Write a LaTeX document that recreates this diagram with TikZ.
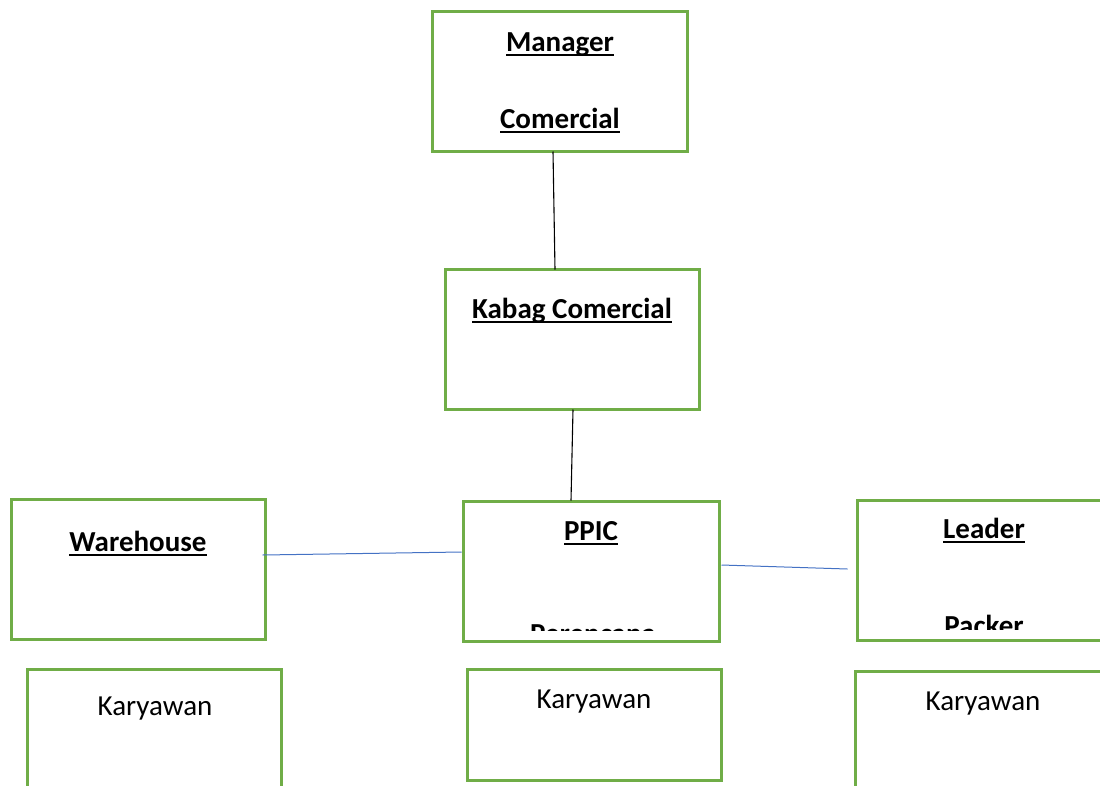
\documentclass[tikz,border=0pt]{standalone}
\usepackage{fontspec}
\setmainfont{Carlito}
\definecolor{boxgreen}{HTML}{70AD47}
\definecolor{lineblue}{HTML}{4472C4}
\newcommand\ulbold[1]{\setbox0=\hbox{\bfseries #1}\rlap{\rule[-4.5pt]{\wd0}{2pt}}\box0}
\begin{document}
\begin{tikzpicture}[x=1pt,y=-1pt,
  orgbox/.style={draw=boxgreen,line width=3pt,fill=white,inner sep=0pt,minimum width=254pt,minimum height=140pt},
  lbl/.style={anchor=base,inner sep=0pt,font=\fontsize{29}{34}\selectfont},
  blk/.style={draw=black,line width=1.1pt},
  blu/.style={draw=lineblue,line width=1pt}]
\useasboundingbox (0,0) rectangle (1100,785);
\clip (0,0) rectangle (1100,785);
% boxes
\node[orgbox,minimum width=255pt] (mgr) at (559.5,81) {};
\node[orgbox] (kabag) at (572,339) {};
\node[orgbox] (wh) at (138,569) {};
\node[orgbox,minimum width=256pt] (ppic) at (591,571) {};
\node[orgbox] (lead) at (984,570) {};
\node[orgbox] (k1) at (154,739) {};
\node[orgbox,minimum height=111pt] (k2) at (594,724.5) {};
\node[orgbox] (k3) at (982,741) {};
% texts
\node[lbl] (tmgr1) at (560,51) {\ulbold{Manager}};
\node[lbl] (tmgr2) at (560,128) {\ulbold{Comercial}};
\node[lbl] (tkab) at (572,318) {\ulbold{Kabag Comercial}};
\node[lbl] (twh) at (138,551) {\ulbold{Warehouse}};
\node[lbl] (tppic) at (591,540) {\ulbold{PPIC}};
\node[lbl] (tlead) at (984,538) {\ulbold{Leader}};
\begin{scope}
\clip (464,500) rectangle (718,630);
\node[lbl] (tper) at (593,643) {\bfseries Perencana};
\end{scope}
\begin{scope}
\clip (858,500) rectangle (1100,629);
\node[lbl] (tpack) at (984,635) {\bfseries Packer};
\end{scope}
\node[lbl] (tk1) at (155,715) {Karyawan};
\node[lbl] (tk2) at (594,708) {Karyawan};
\node[lbl] (tk3) at (983,710) {Karyawan};
% connectors
\draw[blk] ([xshift=-6.5pt,yshift=1pt]mgr.south) -- ([xshift=-17pt,yshift=-2pt]kabag.north);
\draw[blk] ([xshift=1pt,yshift=1pt]kabag.south) -- ([xshift=-20pt,yshift=-1pt]ppic.north);
\draw[blu] ([xshift=-4pt,yshift=14pt]wh.east) -- ([yshift=19pt]ppic.west);
\draw[blu] ([xshift=1pt,yshift=6pt]ppic.east) -- ([xshift=-8pt,yshift=1pt]lead.west);
\end{tikzpicture}
\end{document}
